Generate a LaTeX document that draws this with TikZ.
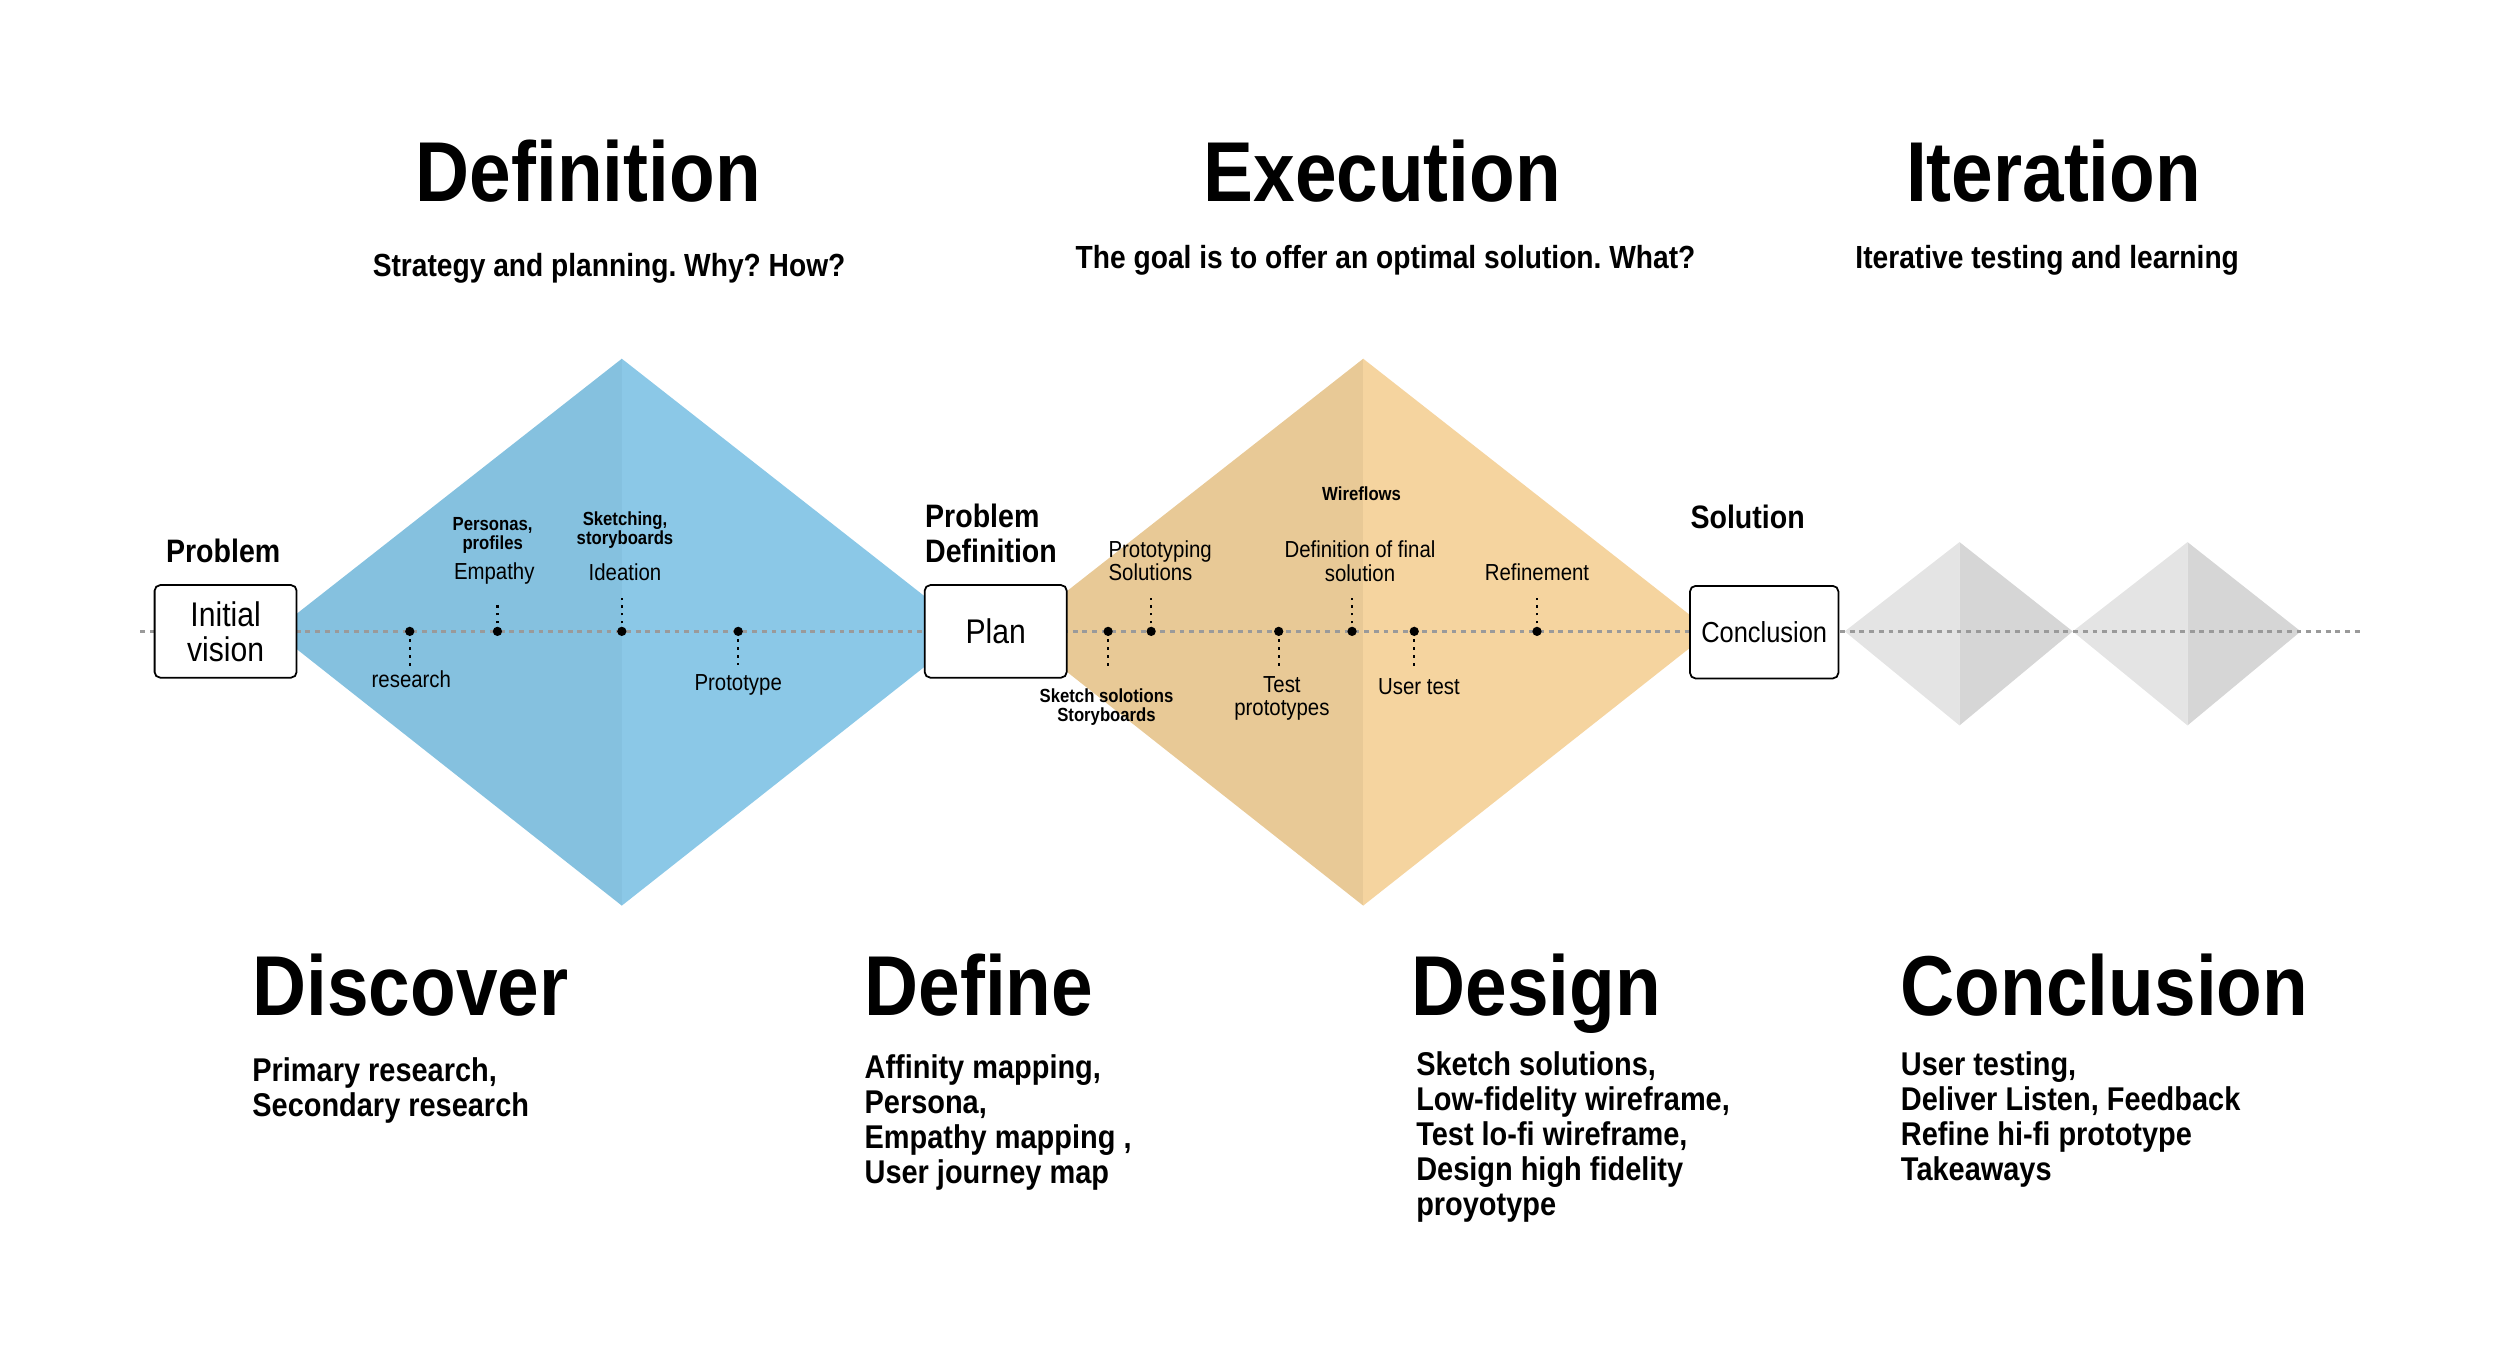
\documentclass[tikz,border=0pt]{standalone}
\usepackage{fontspec}
\setmainfont{Liberation Sans}[FakeStretch=0.88]
\frenchspacing
\definecolor{blueL}{HTML}{85C1DF}
\definecolor{blueR}{HTML}{8BC8E7}
\definecolor{sandL}{HTML}{E8C996}
\definecolor{sandR}{HTML}{F5D49F}
\definecolor{greyL}{HTML}{E4E4E4}
\definecolor{greyR}{HTML}{D6D6D6}
\definecolor{track}{HTML}{9A9A9A}
\newcommand{\fsize}[2]{\fontsize{#1}{#2}\selectfont}

\begin{document}
\begin{tikzpicture}[x=0.01in,y=-0.01in,
  headline/.style={font=\fsize{38.5pt}{38.5pt}\bfseries, inner sep=0, anchor=base},
  subline/.style={font=\fsize{14.5pt}{15.84pt}\bfseries, inner sep=0, anchor=base},
  listtext/.style={font=\fsize{14.9pt}{15.84pt}\bfseries, inner sep=0, anchor=north west, align=left},
  stagebox/.style={draw=black, line width=0.8pt, fill=white, rounded corners=2.5pt, minimum width=0.89in, minimum height=0.58in, inner sep=0, align=center, font=\fsize{15.5pt}{15.84pt}},
  stagelabel/.style={font=\fsize{14.7pt}{15.84pt}\bfseries, inner sep=0, align=left},
  steptext/.style={font=\fsize{10.5pt}{10.65pt}, inner sep=0, align=center},
  stepnote/.style={font=\fsize{8.6pt}{8.8pt}\bfseries, inner sep=0, align=center},
  trackline/.style={draw=track, line width=1.1pt, dash pattern=on 2.2pt off 2.2pt},
  tickline/.style={draw=black, line width=1pt, dash pattern=on 1.3pt off 2.3pt}]
\useasboundingbox (0,0) rectangle (1568,853);
\fill[blueL] (390,225) -- (172,396) -- (390,568) -- cycle;
\fill[blueR] (390,225) -- (608,396) -- (390,568) -- cycle;
\fill[sandL] (855,225) -- (637,396) -- (855,568) -- cycle;
\fill[sandR] (855,225) -- (1073,396) -- (855,568) -- cycle;
\fill[greyL] (1229,340) -- (1157,396) -- (1229,455) -- cycle;
\fill[greyR] (1229,340) -- (1300,396) -- (1229,455) -- cycle;
\fill[greyL] (1372,340) -- (1300,396) -- (1372,455) -- cycle;
\fill[greyR] (1372,340) -- (1443,396) -- (1372,455) -- cycle;
\coordinate (trackL) at (88,396);
\coordinate (trackR) at (1480,396);
\draw[trackline] (trackL) -- (trackR);
\coordinate (pResearch) at (257,396);
\coordinate (tResearch) at (257,420);
\coordinate (pEmpathy) at (312,396);
\coordinate (tEmpathy) at (312,378);
\coordinate (pIdeation) at (390,396);
\coordinate (tIdeation) at (390,375);
\coordinate (pPrototype) at (463,396);
\coordinate (tPrototype) at (463,417);
\coordinate (pSketch) at (695,396);
\coordinate (tSketch) at (695,418);
\coordinate (pProtoSol) at (722,396);
\coordinate (tProtoSol) at (722,375);
\coordinate (pTest) at (802,396);
\coordinate (tTest) at (802,418);
\coordinate (pFinal) at (848,396);
\coordinate (tFinal) at (848,375);
\coordinate (pUser) at (887,396);
\coordinate (tUser) at (887,418);
\coordinate (pRefine) at (964,396);
\coordinate (tRefine) at (964,375);
\draw[tickline] (pResearch) -- (tResearch);
\draw[tickline] (pEmpathy) -- (tEmpathy);
\draw[tickline] (pIdeation) -- (tIdeation);
\draw[tickline] (pPrototype) -- (tPrototype);
\draw[tickline] (pSketch) -- (tSketch);
\draw[tickline] (pProtoSol) -- (tProtoSol);
\draw[tickline] (pTest) -- (tTest);
\draw[tickline] (pFinal) -- (tFinal);
\draw[tickline] (pUser) -- (tUser);
\draw[tickline] (pRefine) -- (tRefine);
\fill[black] (pResearch) circle[radius=2.1pt];
\fill[black] (pEmpathy) circle[radius=2.1pt];
\fill[black] (pIdeation) circle[radius=2.1pt];
\fill[black] (pPrototype) circle[radius=2.1pt];
\fill[black] (pSketch) circle[radius=2.1pt];
\fill[black] (pProtoSol) circle[radius=2.1pt];
\fill[black] (pTest) circle[radius=2.1pt];
\fill[black] (pFinal) circle[radius=2.1pt];
\fill[black] (pUser) circle[radius=2.1pt];
\fill[black] (pRefine) circle[radius=2.1pt];
\node[stagebox] (vision) at (141.5,396) {Initial\\vision};
\node[stagebox] (plan) at (624.5,396) {Plan};
\node[stagebox, minimum width=0.93in, font=\fsize{13.1pt}{15pt}] (concl) at (1106.5,396.5) {Conclusion};
\node[stagelabel, anchor=base] (problem) at (140,352.5) {Problem};
\node[stagelabel, anchor=north west] (probdef) at (580,316) {Problem\\Definition};
\node[stagelabel, anchor=base west] (solution) at (1060,331.5) {Solution};
\node[steptext, anchor=base] (research) at (258,431.5) {research};
\node[steptext, anchor=base] (empathy) at (310,363.5) {Empathy};
\node[stepnote, anchor=north] (personas) at (309,324) {Personas,\\profiles};
\node[steptext, anchor=base] (ideation) at (392,364) {Ideation};
\node[stepnote, anchor=north] (sketching) at (392,320.5) {Sketching,\\storyboards};
\node[steptext, anchor=base] (prototype) at (463,433) {Prototype};
\node[stepnote, anchor=north] (sketchsol) at (694,431.7) {Sketch solotions\\Storyboards};
\node[steptext, anchor=north west, align=left] (protosol) at (695,338.6) {Prototyping\\Solutions};
\node[steptext, anchor=north] (testproto) at (804,423.9) {Test\\prototypes};
\node[stepnote, anchor=base] (wireflows) at (854,314) {Wireflows};
\node[steptext, anchor=north] (finaldef) at (853,339.1) {Definition of final\\solution};
\node[steptext, anchor=base] (usertest) at (890,435.6) {User test};
\node[steptext, anchor=base] (refine) at (964,364.3) {Refinement};
\node[headline] (definition) at (369,126.5) {Definition};
\node[headline] (execution) at (867,126.5) {Execution};
\node[headline] (iteration) at (1288,126.5) {Iteration};
\node[subline] (strategy) at (382,173.6) {Strategy and planning. Why? How?};
\node[subline] (goal) at (869,168.5) {The goal is to offer an optimal solution. What?};
\node[subline] (learning) at (1284,168.5) {Iterative testing and learning};
\node[headline, anchor=base west] (discover) at (158,636.8) {Discover};
\node[headline, anchor=base west] (define) at (542,636.8) {Define};
\node[headline, anchor=base west] (design) at (885,636.8) {Design};
\node[headline, anchor=base west] (conclusion) at (1192,636.8) {Conclusion};
\node[listtext] (discoverlist) at (158,663) {Primary research,\\Secondary research};
\node[listtext] (definelist) at (542,661.5) {Affinity mapping,\\Persona,\\Empathy mapping ,\\User journey map};
\node[listtext] (designlist) at (888,659.3) {Sketch solutions,\\Low-fidelity wireframe,\\Test lo-fi wireframe,\\Design high fidelity\\proyotype};
\node[listtext] (conclusionlist) at (1192,659.3) {User testing,\\Deliver Listen, Feedback\\Refine hi-fi prototype\\Takeaways};
\end{tikzpicture}
\end{document}
